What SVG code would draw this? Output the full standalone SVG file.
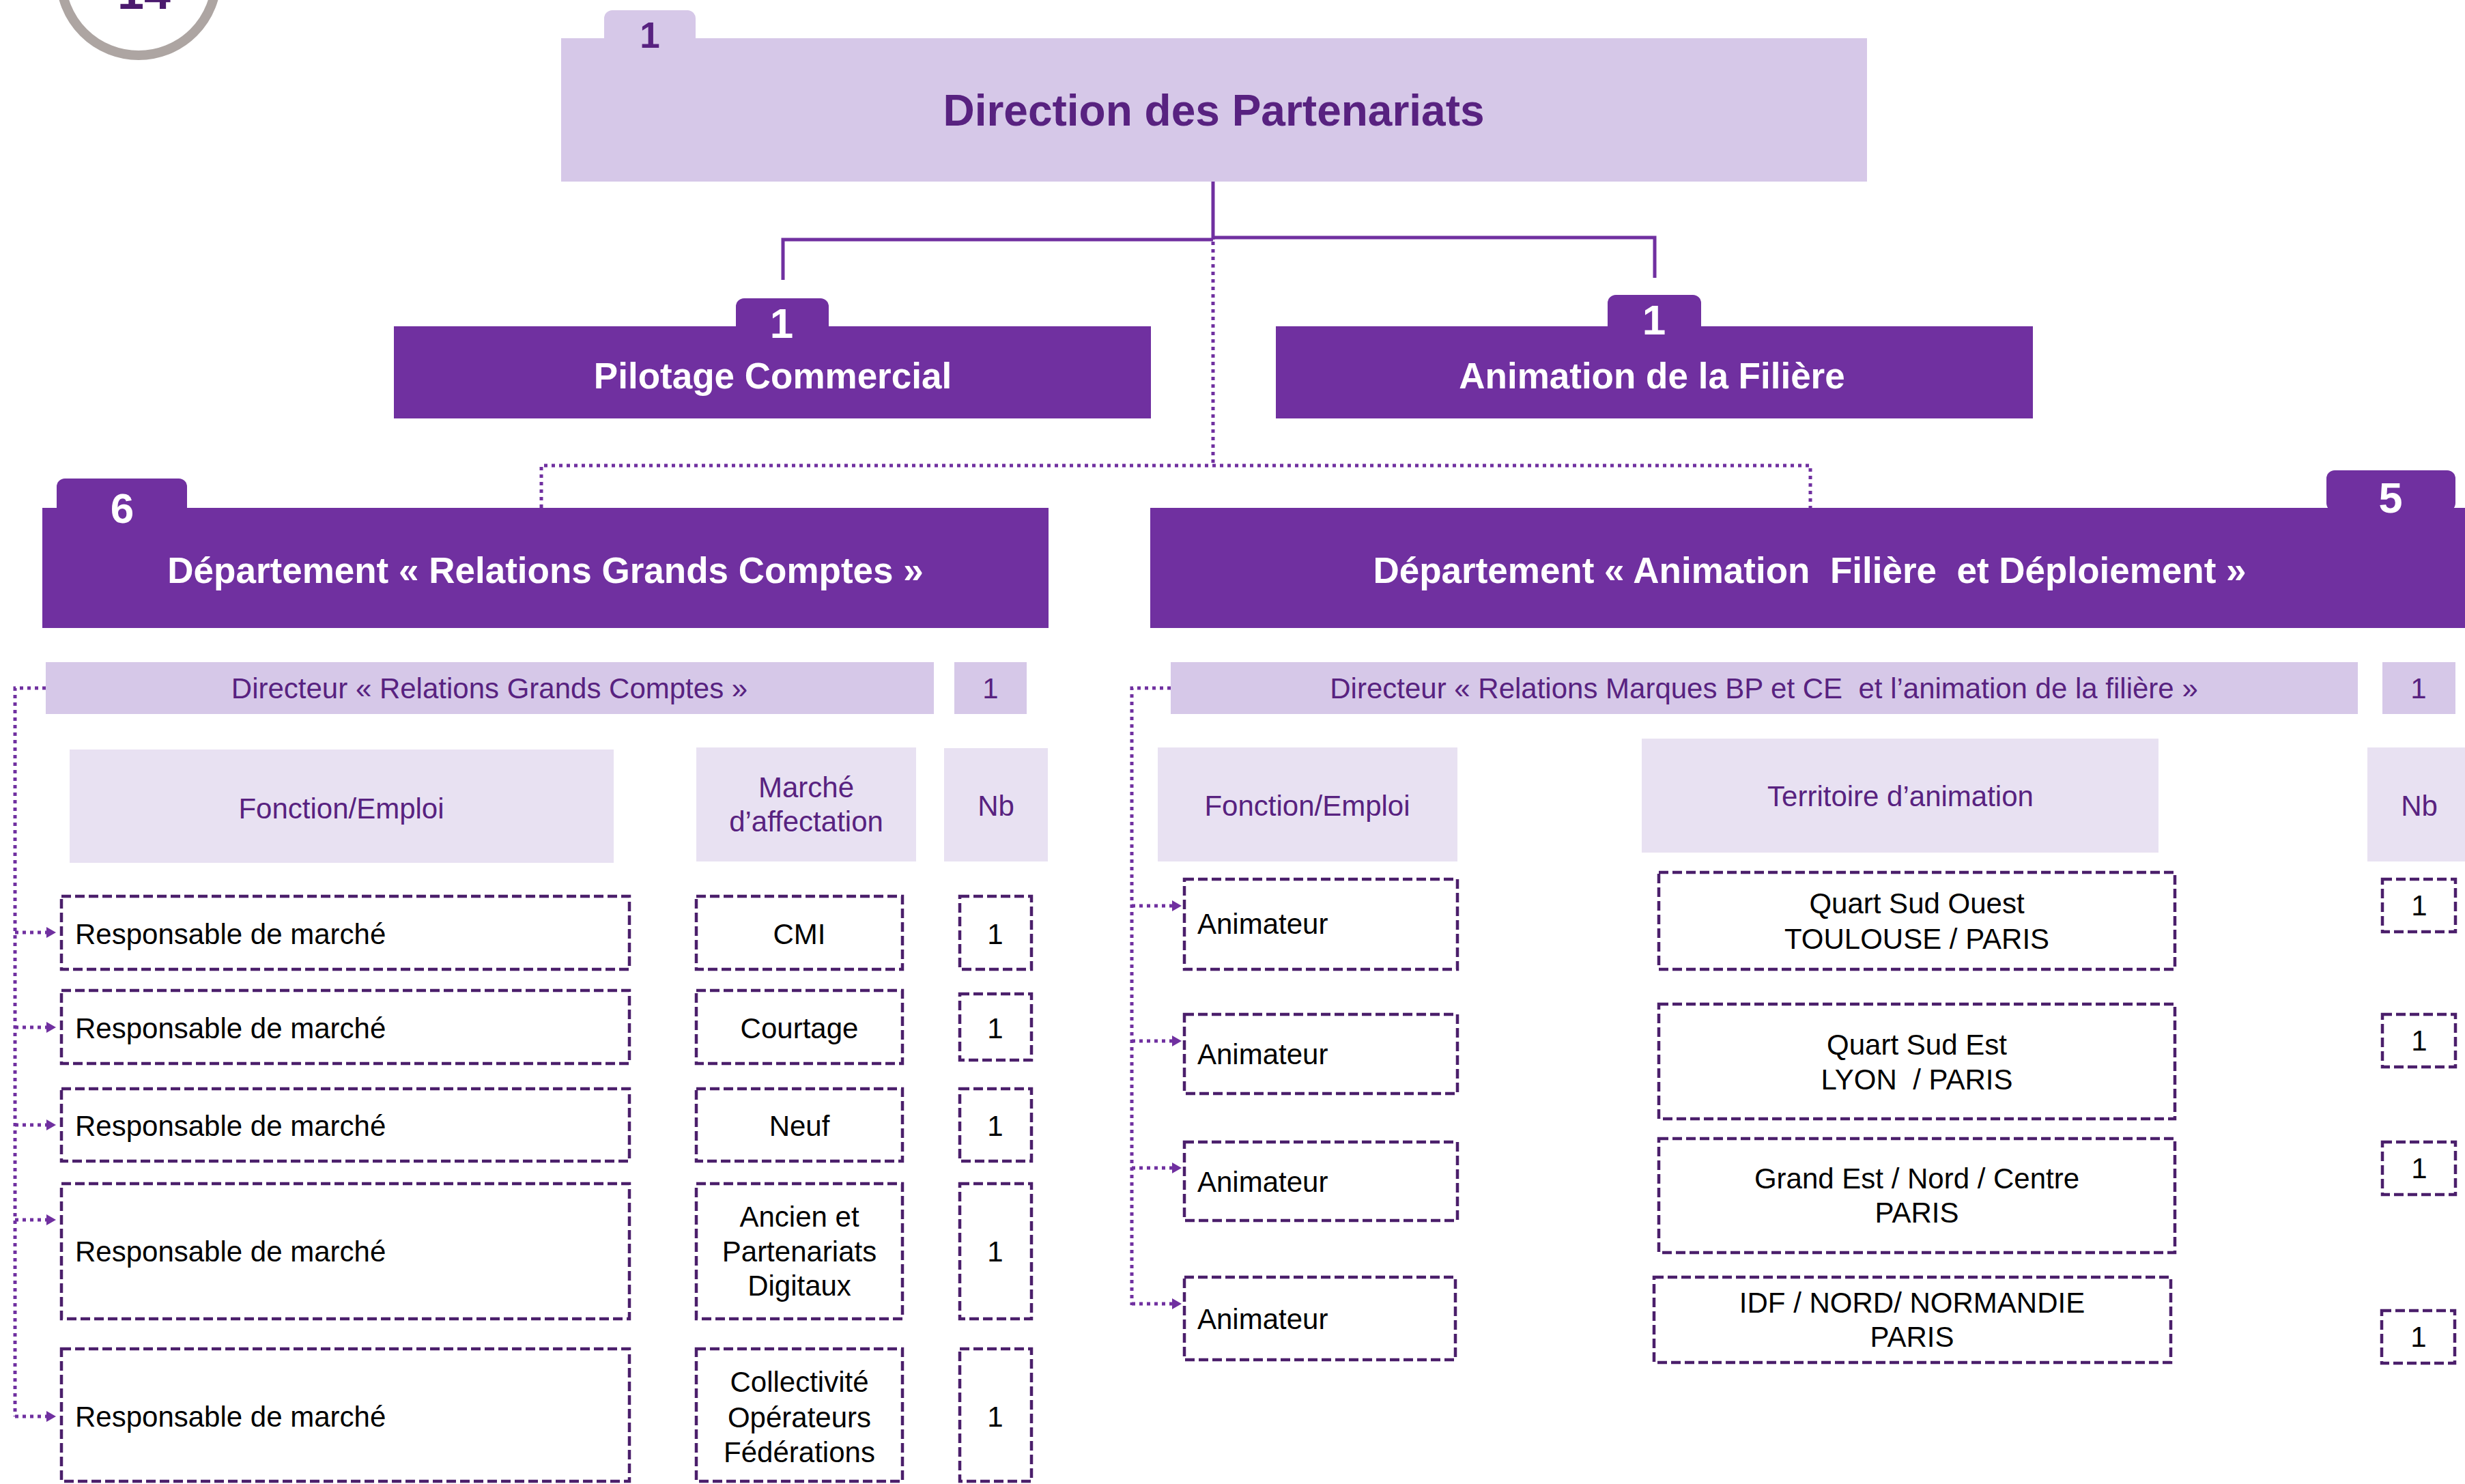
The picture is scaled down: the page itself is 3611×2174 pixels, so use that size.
<svg xmlns="http://www.w3.org/2000/svg" width="3611" height="2174" viewBox="0 0 3611 2174">
<style>
  text { font-family: "Liberation Sans", Arial, sans-serif; }
  .dark { fill: #7030A0; }
  .light { fill: #D6C8E8; }
  .lighter { fill: #E8E1F2; }
  .wb { fill: #FFFFFF; font-weight: bold; text-anchor: middle; }
  .pt { fill: #582280; font-size: 42px; text-anchor: middle; }
  .bt { fill: #000000; font-size: 42px; }
  .btc { fill: #000000; font-size: 42px; text-anchor: middle; }
  .dash { fill: #FFFFFF; stroke: #4B1F6B; stroke-width: 4.5; stroke-dasharray: 14 6; }
  .solid { fill: none; stroke: #7030A0; stroke-width: 5; }
  .dot { fill: none; stroke: #7030A0; stroke-width: 5; stroke-dasharray: 5 6; }
  .arr { fill: none; stroke: #7030A0; stroke-width: 5; stroke-dasharray: 5 6; marker-end: url(#ah); }
</style>
<defs>
  <marker id="ah" markerUnits="userSpaceOnUse" markerWidth="14" markerHeight="16" viewBox="0 0 14 16" refX="0" refY="8" orient="auto">
    <path d="M0 0 L14 8 L0 16 z" fill="#7030A0"/>
  </marker>
</defs>
<rect width="3611" height="2174" fill="#FFFFFF"/>

<g id="page-number">
  <circle cx="203" cy="-33" r="114" fill="none" stroke="#ADA5A2" stroke-width="14"/>
  <text x="211" y="13" font-size="70" font-weight="bold" fill="#4B1A6E" text-anchor="middle">14</text>
</g>

<g id="connectors">
  <path class="solid" d="M1777 266 V351"/>
  <path class="solid" d="M1147 410 V351 H1777"/>
  <path class="solid" d="M1777 348 H2424 V407"/>
  <path class="dot" d="M1777 354 V682"/>
  <path class="dot" d="M793 744 V682 H2652 V744"/>
  <path class="dot" d="M67 1008 H22 V2075"/>
  <path class="arr" d="M22 1366 H68"/>
  <path class="arr" d="M22 1505 H68"/>
  <path class="arr" d="M22 1648 H68"/>
  <path class="arr" d="M22 1787 H68"/>
  <path class="arr" d="M22 2075 H68"/>
  <path class="dot" d="M1715 1008 H1658 V1912"/>
  <path class="arr" d="M1658 1327 H1717"/>
  <path class="arr" d="M1658 1525 H1717"/>
  <path class="arr" d="M1658 1711 H1717"/>
  <path class="arr" d="M1658 1910 H1717"/>
</g>

<g id="direction-partenariats">
  <rect class="light" x="885" y="15" width="134" height="60" rx="12"/>
  <rect class="light" x="822" y="56" width="1913" height="210"/>
  <text x="952" y="70" font-size="53" font-weight="bold" fill="#582280" text-anchor="middle">1</text>
  <text x="1778" y="184" font-size="64" font-weight="bold" fill="#582280" text-anchor="middle">Direction des Partenariats</text>
</g>

<g id="pilotage-commercial">
  <rect class="dark" x="1078" y="437" width="136" height="60" rx="12"/>
  <rect class="dark" x="577" y="478" width="1109" height="135"/>
  <text class="wb" x="1145" y="495" font-size="62">1</text>
  <text class="wb" x="1132" y="569" font-size="53">Pilotage Commercial</text>
</g>

<g id="animation-filiere">
  <rect class="dark" x="2355" y="432" width="137" height="60" rx="12"/>
  <rect class="dark" x="1869" y="478" width="1109" height="135"/>
  <text class="wb" x="2423" y="490" font-size="62">1</text>
  <text class="wb" x="2420" y="569" font-size="53">Animation de la Filière</text>
</g>

<g id="dept-relations-grands-comptes">
  <rect class="dark" x="83" y="701" width="191" height="60" rx="12"/>
  <rect class="dark" x="62" y="744" width="1474" height="176"/>
  <text class="wb" x="179" y="766" font-size="62">6</text>
  <text class="wb" x="799" y="854" font-size="53">Département « Relations Grands Comptes »</text>
</g>

<g id="dept-animation-filiere-deploiement">
  <rect class="dark" x="3408" y="689" width="189" height="60" rx="12"/>
  <rect class="dark" x="1685" y="744" width="1926" height="176"/>
  <text class="wb" x="3502" y="751" font-size="63">5</text>
  <text class="wb" x="2651" y="854" font-size="53" xml:space="preserve">Département « Animation  Filière  et Déploiement »</text>
</g>

<g id="directeur-rgc">
  <rect class="light" x="67" y="970" width="1301" height="76"/>
  <text class="pt" x="717" y="1023">Directeur « Relations Grands Comptes »</text>
  <rect class="light" x="1398" y="970" width="106" height="76"/>
  <text class="pt" x="1451" y="1023">1</text>
</g>

<g id="header-left">
  <rect class="lighter" x="102" y="1098" width="797" height="166"/>
  <text class="pt" x="500" y="1199">Fonction/Emploi</text>
  <rect class="lighter" x="1020" y="1095" width="322" height="167"/>
  <text class="pt" x="1181" y="1168">Marché</text>
  <text class="pt" x="1181" y="1218">d’affectation</text>
  <rect class="lighter" x="1383" y="1096" width="152" height="166"/>
  <text class="pt" x="1459" y="1195">Nb</text>
</g>

<g id="row-left-1">
  <rect class="dash" x="90" y="1313" width="832" height="107"/>
  <text class="bt" x="110" y="1383">Responsable de marché</text>
  <rect class="dash" x="1020" y="1313" width="302" height="107"/>
  <text class="btc" x="1171" y="1383">CMI</text>
  <rect class="dash" x="1406" y="1313" width="105" height="107"/>
  <text class="btc" x="1458" y="1383">1</text>
</g>
<g id="row-left-2">
  <rect class="dash" x="90" y="1451" width="832" height="107"/>
  <text class="bt" x="110" y="1521">Responsable de marché</text>
  <rect class="dash" x="1020" y="1451" width="302" height="107"/>
  <text class="btc" x="1171" y="1521">Courtage</text>
  <rect class="dash" x="1406" y="1456" width="105" height="97"/>
  <text class="btc" x="1458" y="1521">1</text>
</g>
<g id="row-left-3">
  <rect class="dash" x="90" y="1595" width="832" height="106"/>
  <text class="bt" x="110" y="1664">Responsable de marché</text>
  <rect class="dash" x="1020" y="1595" width="302" height="106"/>
  <text class="btc" x="1171" y="1664">Neuf</text>
  <rect class="dash" x="1406" y="1595" width="105" height="106"/>
  <text class="btc" x="1458" y="1664">1</text>
</g>
<g id="row-left-4">
  <rect class="dash" x="90" y="1734" width="832" height="198"/>
  <text class="bt" x="110" y="1848">Responsable de marché</text>
  <rect class="dash" x="1020" y="1734" width="302" height="198"/>
  <text class="btc" x="1171" y="1797">Ancien et</text>
  <text class="btc" x="1171" y="1848">Partenariats</text>
  <text class="btc" x="1171" y="1898">Digitaux</text>
  <rect class="dash" x="1406" y="1734" width="105" height="198"/>
  <text class="btc" x="1458" y="1848">1</text>
</g>
<g id="row-left-5">
  <rect class="dash" x="90" y="1976" width="832" height="194"/>
  <text class="bt" x="110" y="2090">Responsable de marché</text>
  <rect class="dash" x="1020" y="1976" width="302" height="194"/>
  <text class="btc" x="1171" y="2039">Collectivité</text>
  <text class="btc" x="1171" y="2091">Opérateurs</text>
  <text class="btc" x="1171" y="2142">Fédérations</text>
  <rect class="dash" x="1406" y="1976" width="105" height="194"/>
  <text class="btc" x="1458" y="2090">1</text>
</g>

<g id="directeur-rmbp">
  <rect class="light" x="1715" y="970" width="1739" height="76"/>
  <text class="pt" x="2584" y="1023" xml:space="preserve">Directeur « Relations Marques BP et CE  et l’animation de la filière »</text>
  <rect class="light" x="3490" y="970" width="107" height="76"/>
  <text class="pt" x="3543" y="1023">1</text>
</g>

<g id="header-right">
  <rect class="lighter" x="1696" y="1095" width="439" height="167"/>
  <text class="pt" x="1915" y="1195">Fonction/Emploi</text>
  <rect class="lighter" x="2405" y="1082" width="757" height="167"/>
  <text class="pt" x="2784" y="1181">Territoire d’animation</text>
  <rect class="lighter" x="3468" y="1095" width="143" height="167"/>
  <text class="pt" x="3544" y="1195">Nb</text>
</g>

<g id="row-right-1">
  <rect class="dash" x="1735" y="1288" width="400" height="132"/>
  <text class="bt" x="1754" y="1368">Animateur</text>
  <rect class="dash" x="2430" y="1278" width="756" height="142"/>
  <text class="btc" x="2808" y="1338">Quart Sud Ouest</text>
  <text class="btc" x="2808" y="1390">TOULOUSE / PARIS</text>
  <rect class="dash" x="3490" y="1288" width="107" height="77"/>
  <text class="btc" x="3544" y="1341">1</text>
</g>
<g id="row-right-2">
  <rect class="dash" x="1735" y="1486" width="400" height="116"/>
  <text class="bt" x="1754" y="1559">Animateur</text>
  <rect class="dash" x="2430" y="1471" width="756" height="168"/>
  <text class="btc" x="2808" y="1545">Quart Sud Est</text>
  <text class="btc" x="2808" y="1596" xml:space="preserve">LYON  / PARIS</text>
  <rect class="dash" x="3490" y="1486" width="107" height="77"/>
  <text class="btc" x="3544" y="1539">1</text>
</g>
<g id="row-right-3">
  <rect class="dash" x="1735" y="1673" width="400" height="115"/>
  <text class="bt" x="1754" y="1746">Animateur</text>
  <rect class="dash" x="2430" y="1668" width="756" height="167"/>
  <text class="btc" x="2808" y="1741">Grand Est / Nord / Centre</text>
  <text class="btc" x="2808" y="1791">PARIS</text>
  <rect class="dash" x="3490" y="1673" width="107" height="77"/>
  <text class="btc" x="3544" y="1726">1</text>
</g>
<g id="row-right-4">
  <rect class="dash" x="1735" y="1871" width="397" height="121"/>
  <text class="bt" x="1754" y="1947">Animateur</text>
  <rect class="dash" x="2423" y="1871" width="757" height="125"/>
  <text class="btc" x="2801" y="1923">IDF / NORD/ NORMANDIE</text>
  <text class="btc" x="2801" y="1973">PARIS</text>
  <rect class="dash" x="3489" y="1920" width="107" height="77"/>
  <text class="btc" x="3543" y="1973">1</text>
</g>
</svg>
